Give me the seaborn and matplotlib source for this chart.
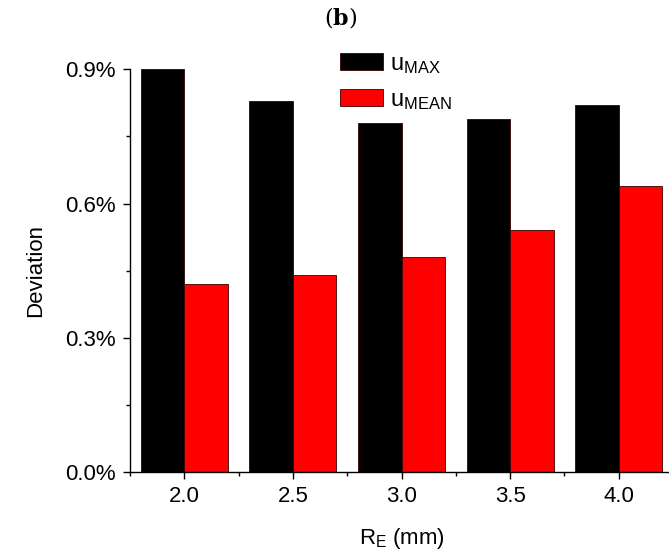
import matplotlib
matplotlib.use("Agg")
import matplotlib.pyplot as plt
from matplotlib.ticker import MultipleLocator, FuncFormatter
import seaborn as sns
import pandas as pd

# Deviation (%) of the max and mean velocity vs. fillet radius R_E
radius_mm = [2.0, 2.5, 3.0, 3.5, 4.0]
u_max = [0.90, 0.83, 0.78, 0.79, 0.82]
u_mean = [0.42, 0.44, 0.48, 0.54, 0.64]
series_labels = [r"$\mathregular{u_{MAX}}$", r"$\mathregular{u_{MEAN}}$"]
y_ticks = [0.0, 0.3, 0.6, 0.9]

sns.set_style("ticks")
plt.rcParams["font.family"] = ["Liberation Sans", "DejaVu Sans"]
plt.rcParams["mathtext.fontset"] = "custom"
plt.rcParams["mathtext.rm"] = "Liberation Sans"
plt.rcParams["mathtext.bf"] = "DejaVu Serif:bold"
for key in ("text.color", "axes.labelcolor", "xtick.color", "ytick.color", "axes.edgecolor"):
    plt.rcParams[key] = "black"

df = pd.DataFrame({
    "R": radius_mm * 2,
    "Deviation": u_max + u_mean,
    "series": [series_labels[0]] * len(radius_mm) + [series_labels[1]] * len(radius_mm),
})

fig = plt.figure(figsize=(6.69, 5.53), dpi=100)
ax = fig.add_axes([130 / 669, 81 / 553, 543 / 669, 402.7 / 553])

sns.barplot(
    data=df, x="R", y="Deviation", hue="series", native_scale=True,
    palette=["#000000", "#ff0000"], saturation=1, width=0.8, dodge=True,
    edgecolor="#3a0000", linewidth=0.6, ax=ax, legend=False,
)

ax.set_xlim(1.75, 4.25)
ax.set_ylim(0, 0.9)
ax.set_xticks(radius_mm)
ax.set_xticklabels([f"{v:.1f}" for v in radius_mm])
ax.xaxis.set_minor_locator(MultipleLocator(0.5, offset=0.25))
ax.set_yticks(y_ticks)
ax.yaxis.set_major_formatter(FuncFormatter(lambda v, _: f"{v:.1f}%"))
ax.yaxis.set_minor_locator(MultipleLocator(0.15))

ax.tick_params(which="major", direction="out", length=5, width=1,
               labelsize=16, colors="black", pad=5)
ax.tick_params(which="minor", direction="out", length=3, width=1, colors="black")
for side in ("left", "bottom"):
    ax.spines[side].set_linewidth(1)
    ax.spines[side].set_color("black")
sns.despine(ax=ax)

ax.set_xlabel(r"R$_\mathregular{E}$ (mm)", fontsize=16, labelpad=14)
ax.set_ylabel("Deviation", fontsize=16, labelpad=14)

# legend built from the drawn bar containers
handles = [ax.containers[0], ax.containers[1]]
fig.legend(handles, series_labels, loc="upper left",
           bbox_to_anchor=(340 / 669, 1 - 53 / 553), frameon=False,
           fontsize=17, handlelength=1.8, handleheight=0.75,
           handletextpad=0.3, labelspacing=0.55, borderpad=0, borderaxespad=0)

fig.text(341 / 669, 1 - 17 / 553, r"($\mathbf{b}$)", ha="center", va="center",
         fontsize=16, family=["DejaVu Serif"])

fig.savefig("out.png", dpi=100)
